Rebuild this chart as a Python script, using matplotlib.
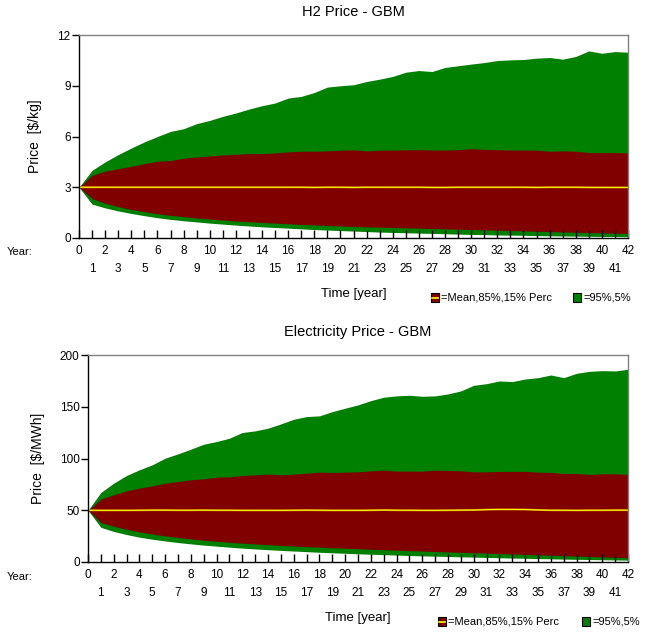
import matplotlib
matplotlib.use("Agg")
import matplotlib.pyplot as plt
from matplotlib.patches import Rectangle
import numpy as np

plt.rcParams["font.family"] = ["Liberation Sans", "DejaVu Sans"]

years = list(range(0, 43))

# H2 price percentiles [$/kg]
h2_p95 = [3.0, 4.0, 4.5, 4.93, 5.32, 5.68, 6.0, 6.3, 6.46, 6.76, 6.95, 7.19, 7.39, 7.62, 7.82,
          7.98, 8.27, 8.37, 8.6, 8.92, 9.0, 9.06, 9.25, 9.39, 9.55, 9.8, 9.9, 9.84, 10.08, 10.18,
          10.28, 10.37, 10.49, 10.53, 10.55, 10.63, 10.67, 10.57, 10.73, 11.06, 10.92, 11.02, 10.98]
h2_p85 = [3.0, 3.71, 3.95, 4.1, 4.24, 4.4, 4.54, 4.58, 4.72, 4.79, 4.85, 4.91, 4.95, 4.99, 4.99,
          5.03, 5.09, 5.13, 5.13, 5.15, 5.19, 5.21, 5.15, 5.19, 5.2, 5.21, 5.22, 5.2, 5.2, 5.22,
          5.28, 5.24, 5.22, 5.2, 5.2, 5.19, 5.13, 5.15, 5.13, 5.05, 5.05, 5.05, 5.03]
h2_mean = [3.0, 3.0, 3.0, 3.0, 3.0, 3.0, 3.0, 3.0, 3.0, 3.0, 3.0, 3.0, 3.0, 3.0, 3.0,
           3.0, 3.0, 3.0, 2.99, 3.0, 3.0, 2.99, 3.0, 3.0, 3.0, 3.0, 3.0, 2.99, 2.99, 3.0,
           3.0, 3.0, 3.0, 3.0, 3.0, 2.99, 3.0, 3.0, 3.0, 2.99, 2.99, 2.99, 2.99]
h2_p15 = [3.0, 2.32, 2.05, 1.85, 1.68, 1.55, 1.43, 1.34, 1.26, 1.18, 1.12, 1.06, 1.0, 0.96, 0.92,
          0.88, 0.84, 0.8, 0.77, 0.74, 0.71, 0.68, 0.66, 0.64, 0.62, 0.6, 0.58, 0.56, 0.54, 0.52,
          0.5, 0.48, 0.46, 0.44, 0.42, 0.4, 0.38, 0.36, 0.34, 0.32, 0.3, 0.28, 0.26]
h2_p5 = [3.0, 2.0, 1.78, 1.6, 1.45, 1.32, 1.2, 1.1, 1.02, 0.95, 0.88, 0.82, 0.76, 0.71, 0.66,
         0.62, 0.58, 0.54, 0.5, 0.47, 0.44, 0.41, 0.38, 0.35, 0.33, 0.31, 0.29, 0.27, 0.25, 0.23,
         0.21, 0.2, 0.18, 0.17, 0.16, 0.14, 0.13, 0.12, 0.11, 0.1, 0.09, 0.09, 0.08]

# electricity price percentiles [$/MWh]
el_p95 = [50.0, 67.2, 76.2, 83.6, 89.1, 93.9, 100.3, 104.5, 109.0, 113.8, 116.4, 119.6, 125.1, 126.7, 129.3,
          133.4, 137.9, 140.5, 141.2, 145.3, 148.6, 151.8, 155.9, 159.2, 160.5, 161.1, 160.1, 160.5, 162.4, 165.3,
          170.7, 172.3, 174.9, 174.3, 176.8, 178.1, 180.7, 178.1, 182.3, 184.2, 184.9, 184.6, 186.2]
el_p85 = [50.0, 60.8, 65.0, 68.8, 71.4, 73.6, 76.2, 77.8, 79.4, 80.4, 82.0, 82.3, 83.6, 84.2, 84.9,
          84.2, 84.9, 85.8, 86.8, 86.5, 86.8, 87.1, 88.1, 88.7, 87.8, 87.8, 87.8, 88.7, 88.4, 88.1,
          87.1, 87.1, 87.5, 87.5, 87.5, 86.8, 86.5, 85.5, 85.5, 84.6, 85.2, 85.2, 84.6]
el_mean = [50.0, 49.9, 49.9, 49.9, 50.0, 50.1, 50.1, 50.0, 50.0, 50.1, 50.0, 50.0, 49.9, 49.9, 49.9,
           49.9, 50.0, 50.1, 50.0, 49.9, 49.9, 49.9, 50.0, 50.2, 50.0, 50.0, 49.9, 49.9, 50.0, 50.1,
           50.2, 50.6, 50.8, 50.8, 50.7, 50.3, 50.0, 50.0, 49.9, 50.0, 50.0, 50.1, 50.1]
el_p15 = [50.0, 38.0, 34.5, 31.5, 29.0, 27.0, 25.2, 23.7, 22.3, 21.0, 20.0, 19.0, 18.2, 17.4, 16.7,
          16.0, 15.4, 14.8, 14.3, 13.8, 13.3, 12.8, 12.3, 11.9, 11.4, 11.0, 10.6, 10.1, 9.7, 9.3,
          8.9, 8.5, 8.1, 7.7, 7.3, 6.9, 6.5, 6.1, 5.7, 5.3, 4.9, 4.5, 4.1]
el_p5 = [50.0, 33.5, 29.5, 26.5, 24.0, 22.0, 20.3, 18.8, 17.5, 16.3, 15.3, 14.3, 13.4, 12.6, 11.9,
         11.2, 10.6, 10.0, 9.4, 8.9, 8.4, 7.9, 7.5, 7.1, 6.7, 6.3, 5.9, 5.6, 5.3, 5.0,
         4.7, 4.4, 4.1, 3.8, 3.6, 3.3, 3.1, 2.8, 2.6, 2.4, 2.2, 2.0, 1.8]

GREEN = "#008000"
RED = "#800000"
YELLOW = "#ffff00"
ORANGE = "#d08000"

W, H = 646, 634
fig = plt.figure(figsize=(W / 100, H / 100), dpi=100)


def px_axes(left, top, right, bottom):
    return fig.add_axes([left / W, 1 - bottom / H, (right - left) / W, (bottom - top) / H])


def draw_panel(ax, p5, p15, mean, p85, p95, ymax, ystep, title, ylabel):
    ax.fill_between(years, p5, p95, color=GREEN, lw=0)
    ax.fill_between(years, p15, p85, color=RED, lw=0)
    ax.plot(years, mean, color=ORANGE, lw=1.4)
    ax.plot(years, mean, color=YELLOW, lw=0.7)
    ax.set_xlim(0, 42)
    ax.set_ylim(0, ymax)
    ax.set_yticks(np.arange(0, ymax + 0.01, ystep))
    ax.set_xticks(range(0, 43, 2))
    ax.set_xticks(range(1, 42, 2), minor=True)
    ax.set_xticklabels([str(v) for v in range(0, 43, 2)])
    ax.set_xticklabels([str(v) for v in range(1, 42, 2)], minor=True)
    ax.tick_params(axis="x", which="both", direction="in", length=6, width=1, labelsize=8.5, color="black")
    ax.tick_params(axis="x", which="major", pad=5)
    ax.tick_params(axis="x", which="minor", pad=18)
    ax.tick_params(axis="y", direction="out", length=5, width=1, labelsize=8.5, pad=1)
    for side in ("top", "right"):
        ax.spines[side].set_color("#808080")
    for side in ("left", "bottom"):
        ax.spines[side].set_color("black")
    for sp in ax.spines.values():
        sp.set_linewidth(1.0)
    ax.set_title(title, fontsize=10.5, pad=14)
    ax.set_ylabel(ylabel, fontsize=10, labelpad=11)
    ax.set_xlabel("Time [year]", fontsize=9.5, labelpad=9)


def draw_legend(y_top, x_red, x_green):
    fig.patches.append(Rectangle((x_red / W, 1 - (y_top + 9) / H), 8 / W, 9 / H,
                                 transform=fig.transFigure, facecolor=RED, edgecolor="black", lw=0.8))
    fig.lines.append(plt.Line2D([(x_red + 1) / W, (x_red + 7) / W], [1 - (y_top + 4.5) / H] * 2,
                                transform=fig.transFigure, color=YELLOW, lw=1.2))
    fig.text((x_red + 10) / W, 1 - (y_top + 4.5) / H, "=Mean,85%,15% Perc", fontsize=8,
             ha="left", va="center")
    fig.patches.append(Rectangle((x_green / W, 1 - (y_top + 9) / H), 8 / W, 9 / H,
                                 transform=fig.transFigure, facecolor=GREEN, edgecolor="black", lw=0.8))
    fig.text((x_green + 10) / W, 1 - (y_top + 4.5) / H, "=95%,5%", fontsize=8,
             ha="left", va="center")


ax1 = px_axes(79, 35, 628, 238)
draw_panel(ax1, h2_p5, h2_p15, h2_mean, h2_p85, h2_p95, 12, 3, "H2 Price - GBM", "Price  [$/kg]")
fig.text(7 / W, 1 - 252 / H, "Year:", fontsize=8, ha="left", va="center")
draw_legend(293, 431, 573)

ax2 = px_axes(88, 355, 628, 562)
draw_panel(ax2, el_p5, el_p15, el_mean, el_p85, el_p95, 200, 50, "Electricity Price - GBM", "Price  [$/MWh]")
fig.text(7 / W, 1 - 577 / H, "Year:", fontsize=8, ha="left", va="center")
draw_legend(617, 438, 582)

fig.savefig("out.png", dpi=100)
